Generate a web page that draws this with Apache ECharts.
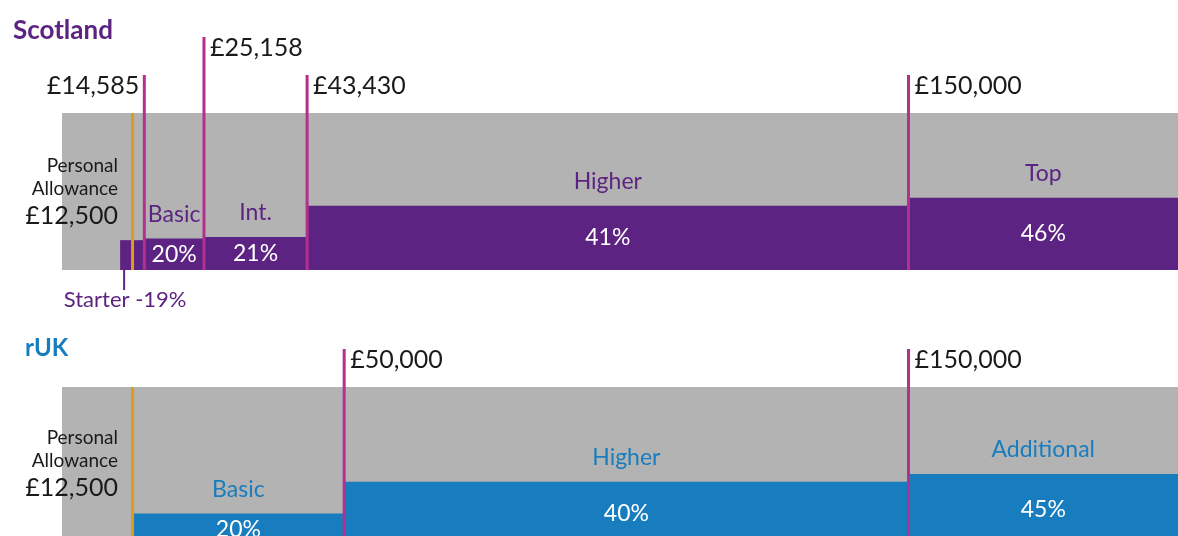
<!DOCTYPE html>
<html><head><meta charset="utf-8">
<script src="https://cdn.jsdelivr.net/npm/echarts@6/dist/echarts.min.js"></script>
<style>html,body{margin:0;padding:0;background:#fff}#c{width:1178px;height:536px}</style>
</head><body><div id="c"></div>
<script>
// ---- data ----
const X_MAX = 197750;
const personalAllowance = 12500;
const scotBands = ['Starter', 'Basic', 'Int.', 'Higher', 'Top'];
const scotFrom = [10300, 14585, 25158, 43430, 150000];
const scotTo = [14585, 25158, 43430, 150000, X_MAX];
const scotRates = [19, 20, 21, 41, 46];
const scotThresholds = [14585, 25158, 43430, 150000];
const scotThresholdLabels = ['£14,585', '£25,158', '£43,430', '£150,000'];
const rukBands = ['Basic', 'Higher', 'Additional'];
const rukFrom = [12500, 50000, 150000];
const rukTo = [50000, 150000, X_MAX];
const rukRates = [20, 40, 45];
const rukThresholds = [50000, 150000];
const rukThresholdLabels = ['£50,000', '£150,000'];

// ---- styles ----
const FONT = 'Lato, "Open Sans", sans-serif';
const PURPLE = '#5c2382', BLUE = '#177dbf', GREY = '#b3b3b3', MAGENTA = '#b5308e', ORANGE = '#e09a1c';

function bandRender(names, color, nameColor) {
  return function (params, api) {
    const i = params.dataIndex;
    const x0 = api.value(0), x1 = api.value(1), r = api.value(2);
    const p0 = api.coord([x0, r]), p1 = api.coord([x1, 0]);
    const children = [{ type: 'rect', shape: { x: p0[0], y: p0[1], width: p1[0] - p0[0], height: p1[1] - p0[1] }, style: { fill: color } }];
    const cx = (p0[0] + p1[0]) / 2;
    if (names[i] === 'Starter') {
      children.push({ type: 'line', shape: { x1: p0[0] + 4, y1: p1[1], x2: p0[0] + 4, y2: p1[1] + 20 }, style: { stroke: color, lineWidth: 2 } });
      children.push({ type: 'text', style: { text: names[i] + ' -' + r + '%', x: p0[0] + 5, y: p1[1] + 30, align: 'center', verticalAlign: 'middle', fill: nameColor, font: '22px ' + FONT } });
    } else {
      children.push({ type: 'text', style: { text: names[i], x: cx, y: p0[1] - 24, align: 'center', verticalAlign: 'middle', fill: nameColor, font: '23px ' + FONT } });
      children.push({ type: 'text', style: { text: r + '%', x: cx, y: (p0[1] + p1[1]) / 2, align: 'center', verticalAlign: 'middle', fill: '#ffffff', font: '23px ' + FONT } });
    }
    return { type: 'group', children };
  };
}

function thresholdRender(labels, raisedIdx) {
  return function (params, api) {
    const i = params.dataIndex;
    const v = api.value(0);
    const top = api.coord([v, 100]);
    const bot = api.coord([v, 0]);
    const ext = (i === raisedIdx) ? 76 : 38;
    const yTop = top[1] - ext;
    const leftSide = (labels === scotThresholdLabels && i === 0);
    return {
      type: 'group', children: [
        { type: 'line', shape: { x1: top[0], y1: yTop, x2: top[0], y2: bot[1] }, style: { stroke: MAGENTA, lineWidth: 3 } },
        { type: 'text', style: { text: labels[i], x: leftSide ? top[0] - 5 : top[0] + 6, y: yTop + 11, align: leftSide ? 'right' : 'left', verticalAlign: 'middle', fill: '#1a1a1a', font: '25px ' + FONT } }
      ]
    };
  };
}

function paRender(params, api) {
  const v = api.value(0);
  const top = api.coord([v, 100]);
  const bot = api.coord([v, 0]);
  return { type: 'line', shape: { x1: top[0], y1: top[1], x2: top[0], y2: bot[1] }, style: { stroke: ORANGE, lineWidth: 3 } };
}

function bandData(from, to, rates) {
  return from.map((f, i) => [f, to[i], rates[i]]);
}

function paLabels(top) {
  return [
    { type: 'text', right: 1178 - 118, top: top, style: { text: 'Personal', fill: '#1a1a1a', font: '19px ' + FONT, align: 'right' } },
    { type: 'text', right: 1178 - 118, top: top + 23, style: { text: 'Allowance', fill: '#1a1a1a', font: '19px ' + FONT, align: 'right' } },
    { type: 'text', right: 1178 - 118, top: top + 47, style: { text: '£12,500', fill: '#1a1a1a', font: '25px ' + FONT, align: 'right' } }
  ];
}

const chart = echarts.init(document.getElementById('c'), null, { renderer: 'canvas' });
chart.setOption({
  animation: false,
  title: [
    { text: 'Scotland', left: 8, top: 13, textStyle: { color: PURPLE, fontSize: 26, fontWeight: 'bold', fontFamily: FONT } },
    { text: 'rUK', left: 20, top: 331, textStyle: { color: BLUE, fontSize: 24, fontWeight: 'bold', fontFamily: FONT } }
  ],
  grid: [
    { left: 62, width: 1116, top: 113, height: 157, show: true, backgroundColor: GREY, borderWidth: 0, outerBoundsMode: 'none' },
    { left: 62, width: 1116, top: 387, height: 158, show: true, backgroundColor: GREY, borderWidth: 0, outerBoundsMode: 'none' }
  ],
  xAxis: [
    { type: 'value', gridIndex: 0, min: 0, max: X_MAX, show: false },
    { type: 'value', gridIndex: 1, min: 0, max: X_MAX, show: false }
  ],
  yAxis: [
    { type: 'value', gridIndex: 0, min: 0, max: 100, show: false },
    { type: 'value', gridIndex: 1, min: 0, max: 100, show: false }
  ],
  graphic: [].concat(paLabels(156), paLabels(428)),
  series: [
    { type: 'custom', xAxisIndex: 0, yAxisIndex: 0, clip: false, renderItem: bandRender(scotBands, PURPLE, PURPLE), data: bandData(scotFrom, scotTo, scotRates), z: 2 },
    { type: 'custom', xAxisIndex: 0, yAxisIndex: 0, clip: false, renderItem: paRender, data: [[personalAllowance]], z: 3 },
    { type: 'custom', xAxisIndex: 0, yAxisIndex: 0, clip: false, renderItem: thresholdRender(scotThresholdLabels, 1), data: scotThresholds.map(v => [v]), z: 4 },
    { type: 'custom', xAxisIndex: 1, yAxisIndex: 1, clip: false, renderItem: bandRender(rukBands, BLUE, BLUE), data: bandData(rukFrom, rukTo, rukRates), z: 2 },
    { type: 'custom', xAxisIndex: 1, yAxisIndex: 1, clip: false, renderItem: paRender, data: [[personalAllowance]], z: 3 },
    { type: 'custom', xAxisIndex: 1, yAxisIndex: 1, clip: false, renderItem: thresholdRender(rukThresholdLabels, -1), data: rukThresholds.map(v => [v]), z: 4 }
  ]
});
</script></body></html>
